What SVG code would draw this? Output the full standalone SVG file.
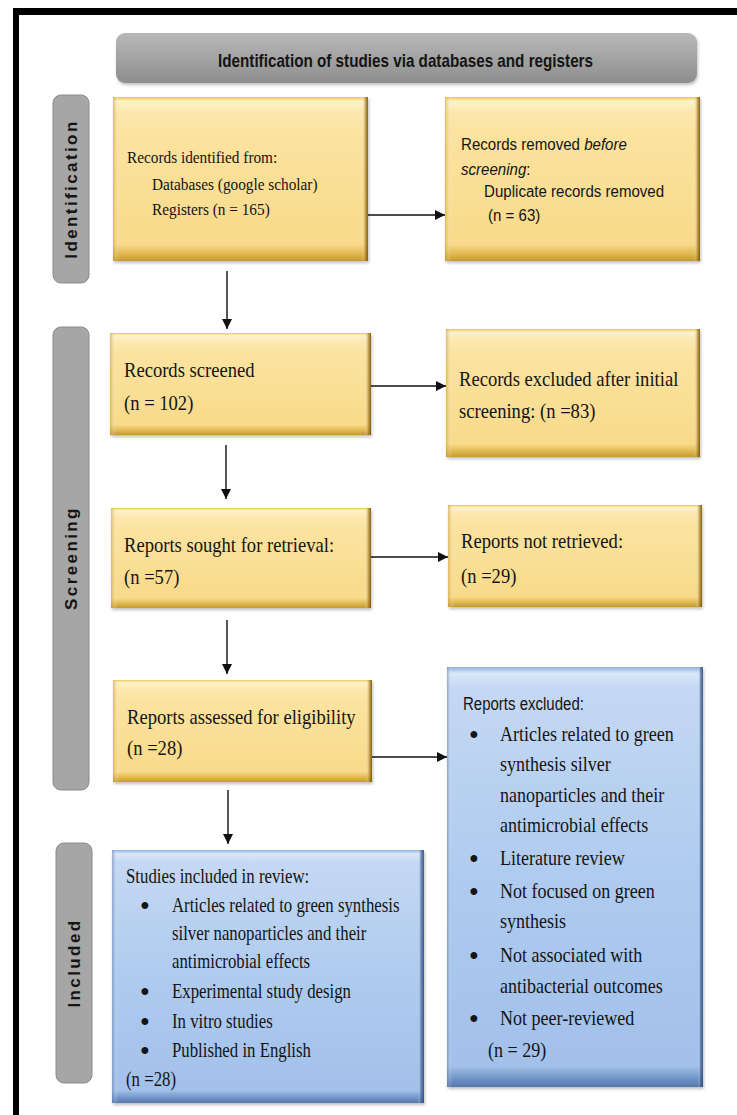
<svg xmlns="http://www.w3.org/2000/svg" width="737" height="1115" viewBox="0 0 737 1115">
<defs>
<style>
.serif{font-family:"Liberation Serif","Times New Roman",serif;fill:#141414}
.sans{font-family:"Liberation Sans",Arial,sans-serif;fill:#141414}
.f22{font-size:22px}
.f21{font-size:21px}
.f17{font-size:17px}
.lab{font-family:"Liberation Sans",Arial,sans-serif;font-weight:bold;font-size:17px;letter-spacing:2.4px;fill:#151515;text-anchor:middle}
.gray{fill:#a6a6a6;stroke:#8a8a8a;stroke-width:1}
.ybox{fill:url(#gY)}
.yside{fill:url(#gYs)}
.bbox{fill:url(#gB)}
.bside{fill:url(#gBs)}
.conn line{stroke:#111;stroke-width:1.4}
.bul{font-family:"Liberation Serif","Times New Roman",serif;font-size:25px;font-weight:bold;fill:#141414;text-anchor:middle}
</style>
<linearGradient id="gY" x1="0" y1="0" x2="0" y2="1">
<stop offset="0" stop-color="#efc850"/>
<stop offset="0.025" stop-color="#fdf2cc"/>
<stop offset="0.09" stop-color="#fce8ae"/>
<stop offset="0.2" stop-color="#fbe3a0"/>
<stop offset="0.9" stop-color="#f8da8a"/>
<stop offset="0.955" stop-color="#e2b852"/>
<stop offset="1" stop-color="#c49a2e"/>
</linearGradient>
<linearGradient id="gYs" x1="0" y1="0" x2="1" y2="0">
<stop offset="0" stop-color="#c8962a" stop-opacity="0.55"/>
<stop offset="0.025" stop-color="#ffffff" stop-opacity="0"/>
<stop offset="0.975" stop-color="#ffffff" stop-opacity="0"/>
<stop offset="0.99" stop-color="#a07818" stop-opacity="0.6"/>
<stop offset="1" stop-color="#6e5008" stop-opacity="0.9"/>
</linearGradient>
<linearGradient id="gB" x1="0" y1="0" x2="0" y2="1">
<stop offset="0" stop-color="#8fb0e0"/>
<stop offset="0.015" stop-color="#dbe7f8"/>
<stop offset="0.05" stop-color="#c4d8f3"/>
<stop offset="0.5" stop-color="#afcbef"/>
<stop offset="0.95" stop-color="#a2c0ea"/>
<stop offset="0.982" stop-color="#6e90c4"/>
<stop offset="1" stop-color="#5677aa"/>
</linearGradient>
<linearGradient id="gBs" x1="0" y1="0" x2="1" y2="0">
<stop offset="0" stop-color="#5a7ab0" stop-opacity="0.55"/>
<stop offset="0.02" stop-color="#ffffff" stop-opacity="0"/>
<stop offset="0.98" stop-color="#ffffff" stop-opacity="0"/>
<stop offset="0.99" stop-color="#3f5f95" stop-opacity="0.6"/>
<stop offset="1" stop-color="#2d4a7a" stop-opacity="0.9"/>
</linearGradient>
<linearGradient id="gH" x1="0" y1="0" x2="0" y2="1">
<stop offset="0" stop-color="#b8b8b8"/>
<stop offset="1" stop-color="#8e8e8e"/>
</linearGradient>
<filter id="sh" x="-5%" y="-5%" width="110%" height="115%">
<feDropShadow dx="1" dy="2" stdDeviation="1.5" flood-color="#000" flood-opacity="0.25"/>
</filter>
<marker id="ah" markerUnits="userSpaceOnUse" markerWidth="12" markerHeight="12" refX="10" refY="5" orient="auto">
<path d="M0,0 L10,5 L0,10 Z" fill="#111"/>
</marker>
</defs>

<rect width="737" height="1115" fill="#ffffff"/>
<g id="frame">
<line x1="13" y1="11.5" x2="737" y2="11.5" stroke="#000" stroke-width="7"/>
<line x1="16" y1="8" x2="16" y2="1115" stroke="#000" stroke-width="6"/>
</g>

<g id="header">
<rect x="116" y="33" width="581" height="50" rx="9" fill="url(#gH)" filter="url(#sh)"/>
<text class="sans" x="218" y="67" font-size="19" font-weight="bold" textLength="375" lengthAdjust="spacingAndGlyphs">Identification of studies via databases and registers</text>
</g>

<g id="label-identification">
<rect class="gray" x="53" y="95" width="36" height="188" rx="8"/>
<text class="lab" x="71" y="195" transform="rotate(-90 71 189)">Identification</text>
</g>
<g id="label-screening">
<rect class="gray" x="53" y="327" width="36" height="463" rx="8"/>
<text class="lab" x="71" y="564" transform="rotate(-90 71 558)">Screening</text>
</g>
<g id="label-included">
<rect class="gray" x="56" y="843" width="36" height="240" rx="8"/>
<text class="lab" x="74" y="969" transform="rotate(-90 74 963)">Included</text>
</g>

<g id="records-identified">
<rect class="ybox" x="113" y="97" width="255" height="164" filter="url(#sh)"/>
<rect class="yside" x="113" y="97" width="255" height="164"/>
<g transform="translate(127 0) scale(0.9 1)">
<text class="serif f17" x="0" y="163">Records identified from:</text>
<text class="serif f17" x="27.8" y="190">Databases (google scholar)</text>
<text class="serif f17" x="27.8" y="215">Registers (n = 165)</text>
</g>
</g>

<g id="records-removed">
<rect class="ybox" x="445" y="97" width="255" height="164" filter="url(#sh)"/>
<rect class="yside" x="445" y="97" width="255" height="164"/>
<g transform="translate(461 0) scale(0.914 1)">
<text class="sans" font-size="16.5" x="0" y="150">Records removed <tspan font-style="italic">before</tspan></text>
<text class="sans" font-size="16.5" x="0" y="175"><tspan font-style="italic">screening</tspan>:</text>
<text class="sans" font-size="16.5" x="25.2" y="197">Duplicate records removed</text>
<text class="sans" font-size="16.5" x="29.5" y="221">(n = 63)</text>
</g>
</g>

<g id="records-screened">
<rect class="ybox" x="110" y="333" width="261" height="102" filter="url(#sh)"/>
<rect class="yside" x="110" y="333" width="261" height="102"/>
<g transform="translate(124 0) scale(0.845 1)">
<text class="serif f22" x="0" y="377">Records screened</text>
<text class="serif f22" x="0" y="410">(n = 102)</text>
</g>
</g>

<g id="records-excluded">
<rect class="ybox" x="446" y="329" width="254" height="128" filter="url(#sh)"/>
<rect class="yside" x="446" y="329" width="254" height="128"/>
<g transform="translate(459 0) scale(0.845 1)">
<text class="serif f22" x="0" y="386">Records excluded after initial</text>
<text class="serif f22" x="0" y="418">screening: (n =83)</text>
</g>
</g>

<g id="reports-sought">
<rect class="ybox" x="111" y="508" width="260" height="100" filter="url(#sh)"/>
<rect class="yside" x="111" y="508" width="260" height="100"/>
<g transform="translate(124 0) scale(0.845 1)">
<text class="serif f22" x="0" y="552">Reports sought for retrieval:</text>
<text class="serif f22" x="0" y="584">(n =57)</text>
</g>
</g>

<g id="reports-not-retrieved">
<rect class="ybox" x="448" y="505" width="254" height="102" filter="url(#sh)"/>
<rect class="yside" x="448" y="505" width="254" height="102"/>
<g transform="translate(461 0) scale(0.845 1)">
<text class="serif f22" x="0" y="548">Reports not retrieved:</text>
<text class="serif f22" x="0" y="583">(n =29)</text>
</g>
</g>

<g id="reports-assessed">
<rect class="ybox" x="113" y="680" width="259" height="102" filter="url(#sh)"/>
<rect class="yside" x="113" y="680" width="259" height="102"/>
<g transform="translate(127 0) scale(0.845 1)">
<text class="serif f22" x="0" y="724">Reports assessed for eligibility</text>
<text class="serif f22" x="0" y="755">(n =28)</text>
</g>
</g>

<g id="reports-excluded">
<rect class="bbox" x="447" y="667" width="256" height="420" filter="url(#sh)"/>
<rect class="bside" x="447" y="667" width="256" height="420"/>
<g transform="translate(463 0) scale(0.79 1)">
<text class="sans" font-size="19" x="0" y="710">Reports excluded:</text>
</g>
<text class="bul" x="474" y="743">•</text>
<text class="bul" x="474" y="867">•</text>
<text class="bul" x="474" y="900">•</text>
<text class="bul" x="474" y="964">•</text>
<text class="bul" x="474" y="1027">•</text>
<g transform="translate(500 0) scale(0.82 1)">
<text class="serif f22" x="0" y="741">Articles related to green</text>
<text class="serif f22" x="0" y="771">synthesis silver</text>
<text class="serif f22" x="0" y="802">nanoparticles and their</text>
<text class="serif f22" x="0" y="832">antimicrobial effects</text>
<text class="serif f22" x="0" y="865">Literature review</text>
<text class="serif f22" x="0" y="898">Not focused on green</text>
<text class="serif f22" x="0" y="928">synthesis</text>
<text class="serif f22" x="0" y="962">Not associated with</text>
<text class="serif f22" x="0" y="993">antibacterial outcomes</text>
<text class="serif f22" x="0" y="1025">Not peer-reviewed</text>
<text class="serif f22" x="-14.6" y="1057">(n = 29)</text>
</g>
</g>

<g id="studies-included">
<rect class="bbox" x="112" y="850" width="312" height="253" filter="url(#sh)"/>
<rect class="bside" x="112" y="850" width="312" height="253"/>
<text class="bul" x="145" y="914">•</text>
<text class="bul" x="145" y="1000">•</text>
<text class="bul" x="145" y="1030">•</text>
<text class="bul" x="145" y="1059">•</text>
<g transform="translate(126 0) scale(0.8 1)">
<text class="serif f21" x="0" y="883">Studies included in review:</text>
<text class="serif f21" x="57.5" y="912">Articles related to green synthesis</text>
<text class="serif f21" x="57.5" y="940">silver nanoparticles and their</text>
<text class="serif f21" x="57.5" y="968">antimicrobial effects</text>
<text class="serif f21" x="57.5" y="998">Experimental study design</text>
<text class="serif f21" x="57.5" y="1028">In vitro studies</text>
<text class="serif f21" x="57.5" y="1057">Published in English</text>
<text class="serif f21" x="0" y="1086">(n =28)</text>
</g>
</g>

<g id="connectors" class="conn">
<line x1="368" y1="215" x2="445" y2="215" marker-end="url(#ah)"/>
<line x1="371" y1="386" x2="446" y2="386" marker-end="url(#ah)"/>
<line x1="371" y1="557" x2="448" y2="557" marker-end="url(#ah)"/>
<line x1="372" y1="757" x2="447" y2="757" marker-end="url(#ah)"/>
<line x1="227" y1="271" x2="227" y2="329" marker-end="url(#ah)"/>
<line x1="226" y1="445" x2="226" y2="499" marker-end="url(#ah)"/>
<line x1="227" y1="620" x2="227" y2="674" marker-end="url(#ah)"/>
<line x1="228" y1="790" x2="228" y2="844" marker-end="url(#ah)"/>
</g>
</svg>
